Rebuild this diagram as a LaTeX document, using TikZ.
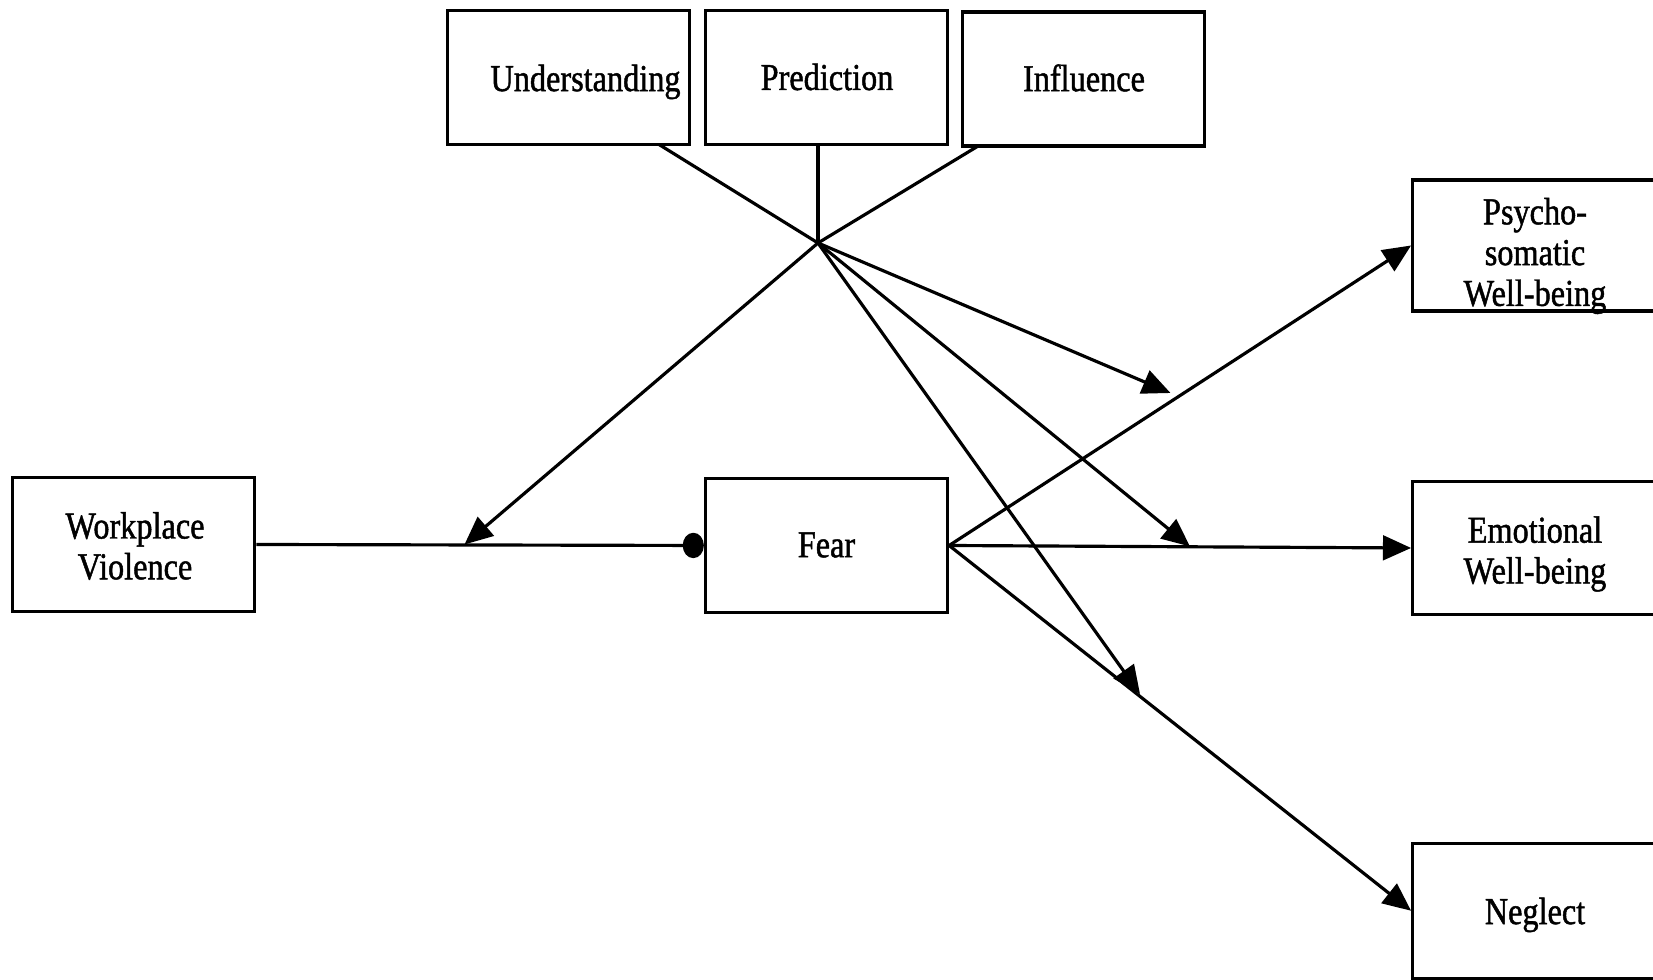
\documentclass[tikz,border=0pt]{standalone}
\usepackage{fontspec}
\setmainfont{Liberation Serif}[FakeStretch=0.85,FakeBold=1.2]
\usetikzlibrary{arrows.meta}

\tikzset{
  box/.style={draw, line width=0.9pt, rectangle, inner sep=0pt,
              minimum width=2.42cm, minimum height=1.34cm},
  txt/.style={align=center, inner sep=0pt,
              font=\fontsize{10.8}{11.6}\selectfont},
  link/.style={line width=0.9pt},
  arr/.style={link, -{Triangle[length=8pt,width=7pt]}},
  dotend/.style={link, -{Circle[length=6pt,width=7.2pt]}}
}

\begin{document}
\begin{tikzpicture}[x=0.01cm, y=-0.01cm]
  % canvas
  \fill[white] (0,0) rectangle (1653,980);
  \useasboundingbox (0,0) rectangle (1653,980);

  % boxes
  \node[box] (und)  at (568.75,77.5) {};
  \node[box] (pred) at (826.25,77.5) {};
  \node[box] (infl) at (1083.25,79) {};
  \node[box] (wv)   at (133.75,544.5) {};
  \node[box] (fear) at (826.5,545.5) {};
  \node[box, minimum height=1.31cm] (psy) at (1533.75,245.5) {};
  \node[box, minimum height=1.33cm] (emo) at (1533.75,548) {};
  \node[box, minimum height=1.35cm] (neg) at (1533.75,910.75) {};

  % labels
  \node[txt] (und-t)  at (585.5,82) {Understanding};
  \node[txt] (pred-t) at (827,77) {Prediction};
  \node[txt] (infl-t) at (1084,78) {Influence};
  \node[txt] (wv-t)   at (135,546) {Workplace\\Violence};
  \node[txt] (fear-t) at (826.5,545) {Fear};
  \node[txt] (psy-t)  at (1535,256) {Psycho-\\somatic\\Well-being};
  \node[txt] (emo-t)  at (1535,554) {Emotional\\Well-being};
  \node[txt] (neg-t)  at (1535,915) {Neglect};

  % moderator junction and the points where its paths end
  \coordinate (C)      at (818,243);
  \coordinate (und-o)  at (659,144.5);
  \coordinate (pred-o) at (818,144.5);
  \coordinate (infl-o) at (979,145.5);
  \coordinate (m-wv)   at (464.5,544.5);
  \coordinate (m-free) at (1170.5,393);
  \coordinate (m-emo)  at (1190,546.5);
  \coordinate (m-neg)  at (1140,694);

  % moderators into the junction
  \draw[link] (und-o) -- (C);
  \draw[link] (pred-o) -- (C);
  \draw[link] (infl-o) -- (C);

  % junction onto the paths
  \draw[arr] (C) -- (m-wv);
  \draw[arr] (C) -- (m-free);
  \draw[arr] (C) -- (m-emo);
  \draw[arr] (C) -- (m-neg);

  % main paths
  \draw[dotend] (wv.east) -- (fear.west);
  \draw[arr] (fear.east) -- (psy.west);
  \draw[arr] (fear.east) -- (emo.west);
  \draw[arr] (fear.east) -- (neg.west);
\end{tikzpicture}
\end{document}
